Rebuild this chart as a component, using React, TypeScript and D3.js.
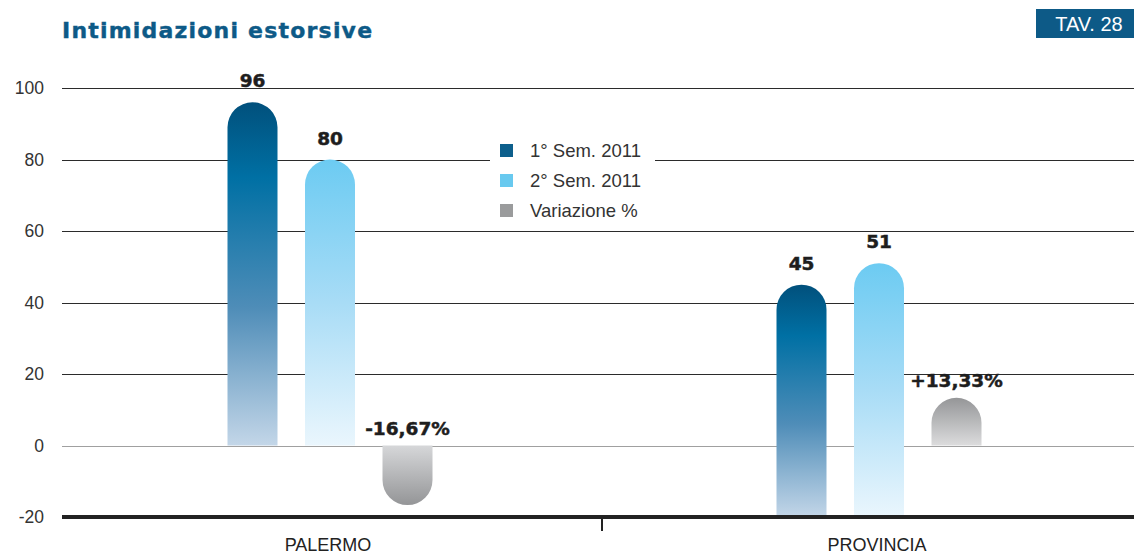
import React from 'react';
import * as d3 from 'd3';

// data
const categories = ['PALERMO', 'PROVINCIA'];
const sem1 = [96, 45];
const sem2 = [80, 51];
const variazione = [-16.67, 13.33];
const variazioneLabels = ['-16,67%', '+13,33%'];
// the blue bars of PROVINCIA start from the bottom axis in the original
const blueBase = [0, -20];
const yTicks = [-20, 0, 20, 40, 60, 80, 100];
const legendItems = ['1° Sem. 2011', '2° Sem. 2011', 'Variazione %'];

const W = 1134;
const H = 556;
const font = '"Liberation Sans", Arial, sans-serif';
const boldFont = '"DejaVu Sans", "Liberation Sans", sans-serif';

const barPath = (x: number, w: number, yBase: number, yEnd: number) => {
  const r = w / 2;
  if (yEnd <= yBase) {
    // goes up, rounded top
    return `M${x},${yBase}L${x},${yEnd + r}A${r},${r} 0 0 1 ${x + w},${yEnd + r}L${x + w},${yBase}Z`;
  }
  return `M${x},${yBase}L${x},${yEnd - r}A${r},${r} 0 0 0 ${x + w},${yEnd - r}L${x + w},${yBase}Z`;
};

export default function App() {
  const y = d3.scaleLinear().domain([-20, 100]).range([517, 88]);
  const x = d3.scaleBand().domain(categories).range([55.5, 1153.5]);
  const inner = d3.scalePoint().domain(['s1', 's2', 'var']).range([-77.5, 77.5]);
  const bw = 50;
  const cx = (c: string, s: string) => (x(c) as number) + x.bandwidth() / 2 + (inner(s) as number);

  const valueText = (key: string, xx: number, yy: number, txt: string | number) => (
    <text key={key} x={xx} y={yy} textAnchor="middle" fontFamily={boldFont} fontWeight="bold" fontSize={18.5}
      fill="#1e1e1e" stroke="#1e1e1e" strokeWidth={0.5}>
      {txt}
    </text>
  );

  return (
    <svg width={W} height={H} style={{ position: 'absolute', left: 0, top: 0, background: '#fff' }}>
      <defs>
        <linearGradient id="gDark" x1="0" y1="0" x2="0" y2="1">
          <stop offset="0" stopColor="#01507c" />
          <stop offset="0.22" stopColor="#0070a4" />
          <stop offset="0.6" stopColor="#4f8db8" />
          <stop offset="1" stopColor="#c3d6e8" />
        </linearGradient>
        <linearGradient id="gLight" x1="0" y1="0" x2="0" y2="1">
          <stop offset="0" stopColor="#6ccbf2" />
          <stop offset="0.5" stopColor="#a8dcf6" />
          <stop offset="1" stopColor="#eaf6fd" />
        </linearGradient>
        <linearGradient id="gGrayNeg" x1="0" y1="0" x2="0" y2="1">
          <stop offset="0" stopColor="#d6d7d9" />
          <stop offset="1" stopColor="#949597" />
        </linearGradient>
        <linearGradient id="gGrayPos" x1="0" y1="0" x2="0" y2="1">
          <stop offset="0" stopColor="#959698" />
          <stop offset="1" stopColor="#dcdcdd" />
        </linearGradient>
      </defs>

      {/* title */}
      <text x={62} y={38} fontFamily={boldFont} fontWeight="bold" fontSize={22} fill="#0d5a87"
        stroke="#0d5a87" strokeWidth={0.4} letterSpacing={1.2}>
        Intimidazioni estorsive
      </text>
      <rect x={1036} y={9} width={98} height={29} fill="#0d5a87" />
      <text x={1089} y={31} textAnchor="middle" fontFamily={font} fontSize={20} fill="#fff">
        TAV. 28
      </text>

      {/* grid */}
      {yTicks.filter(t => t > -20).map(t => {
        const yy = Math.round(y(t)) + 0.5;
        const stroke = t === 0 ? '#a0a0a0' : '#2b2b2b';
        if (t === 80) {
          return (
            <g key={t}>
              <line x1={62} x2={490} y1={yy} y2={yy} stroke={stroke} />
              <line x1={655} x2={W} y1={yy} y2={yy} stroke={stroke} />
            </g>
          );
        }
        return <line key={t} x1={62} x2={W} y1={yy} y2={yy} stroke={stroke} />;
      })}
      {yTicks.map(t => (
        <text key={t} x={44} y={y(t) + 6} textAnchor="end" fontFamily={font} fontSize={17.5} fill="#333">
          {t}
        </text>
      ))}

      {/* bars */}
      {categories.map((c, i) => {
        const x1 = cx(c, 's1') - bw / 2;
        const x2 = cx(c, 's2') - bw / 2;
        const x3 = cx(c, 'var') - bw / 2;
        const v = variazione[i];
        return (
          <g key={c}>
            <path d={barPath(x1, bw, y(blueBase[i]), y(sem1[i]))} fill="url(#gDark)" />
            <path d={barPath(x2, bw, y(blueBase[i]), y(sem2[i]))} fill="url(#gLight)" />
            <path d={barPath(x3, bw, y(0), y(v))} fill={v < 0 ? 'url(#gGrayNeg)' : 'url(#gGrayPos)'} />
            {valueText('a', cx(c, 's1'), y(sem1[i]) - 15, sem1[i])}
            {valueText('b', cx(c, 's2'), y(sem2[i]) - 15, sem2[i])}
            {valueText('c', cx(c, 'var'), (v < 0 ? y(0) : y(v)) - 11, variazioneLabels[i])}
            <text x={cx(c, 's2') - 2} y={551} textAnchor="middle" fontFamily={font} fontSize={18} fill="#222">
              {c}
            </text>
          </g>
        );
      })}

      {/* bottom axis */}
      <line x1={62} x2={W} y1={y(-20)} y2={y(-20)} stroke="#222" strokeWidth={4} />
      <line x1={602} x2={602} y1={y(-20)} y2={y(-20) + 14} stroke="#222" strokeWidth={2} />

      {/* legend */}
      {legendItems.map((l, i) => (
        <g key={l} transform={`translate(500,${144 + i * 30})`}>
          <rect width={13} height={13} fill={['#0d5f8c', '#68c9ef', '#9a9b9c'][i]} />
          <text x={30} y={13} fontFamily={font} fontSize={18.5} fill="#333">
            {l}
          </text>
        </g>
      ))}
    </svg>
  );
}
